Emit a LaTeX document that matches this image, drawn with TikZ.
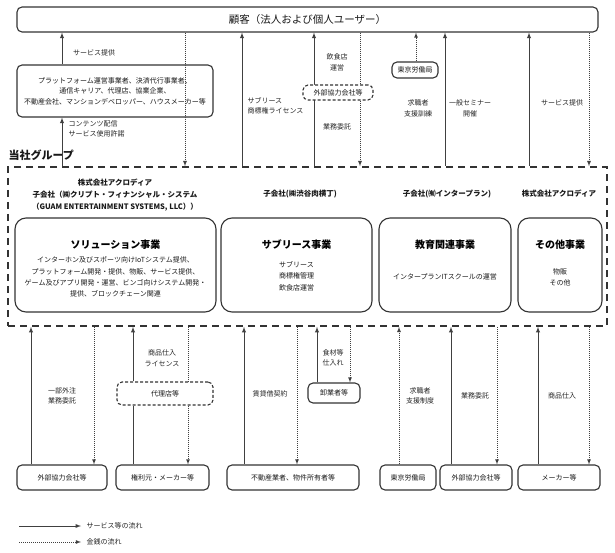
\documentclass[tikz,border=0pt]{standalone}
\usepackage{fontspec}
\setmainfont{Noto Sans CJK JP}
\usetikzlibrary{positioning}

\begin{document}
\begin{tikzpicture}[x=1pt,y=-1pt]
\tikzstyle{box}=[rectangle, rounded corners=5pt, draw=black!80, line width=1.1pt, fill=white, inner sep=0pt, align=center, font=\fontsize{7}{10.5}\selectfont, text=black!90]
\tikzstyle{biz}=[rectangle, rounded corners=11pt, draw=black!80, line width=1.1pt, minimum height=94pt]
\tikzstyle{head}=[font=\fontsize{7.5}{12}\selectfont\bfseries, align=center, text=black!90]
\tikzstyle{title}=[font=\fontsize{10}{12}\selectfont\bfseries, text=black]
\tikzstyle{desc}=[font=\fontsize{7}{11.3}\selectfont, align=center, text=black!90]
\tikzstyle{lbl}=[font=\fontsize{7}{10.5}\selectfont, align=center, text=black!85]
\tikzstyle{serv}=[-latex, line width=0.9pt, draw=black!75]
\tikzstyle{money}=[-latex, line width=0.8pt, draw=black!75, dash pattern=on 1pt off 1pt]

\useasboundingbox (0,0) rectangle (615,553);

% customers and the boxes above the group
\node[box, minimum width=581pt, minimum height=25pt, font=\fontsize{10.5}{12}\selectfont] at (307.5,19.5) (cust) {顧客（法人および個人ユーザー）};
\node[box, minimum width=196pt, minimum height=52pt] at (115,91) (plat) {プラットフォーム運営事業者、決済代行事業者、\\通信キャリア、代理店、協業企業、\\不動産会社、マンションデベロッパー、ハウスメーカー等};
\node[box, minimum width=46pt, minimum height=16pt] at (415,70) (rodo1) {東京労働局};

% group
\node[rectangle, draw=black!80, line width=1.6pt, dash pattern=on 7pt off 5pt, minimum width=599pt, minimum height=159pt] at (307.5,246.5) (group) {};
\node[anchor=west, font=\fontsize{11}{13}\selectfont\bfseries, text=black!90] at (5,155) (grp) {当社グループ};

\node[head] at (115,195) (solH) {株式会社アクロディア\\子会社（㈱クリプト・フィナンシャル・システム\\（GUAM ENTERTAINMENT SYSTEMS, LLC））};
\node[head] at (300,194) (subH) {子会社(㈱渋谷肉横丁)};
\node[head] at (447,194) (eduH) {子会社(㈲インタープラン)};
\node[head] at (559,194) (othH) {株式会社アクロディア};

\node[biz, minimum width=201pt] at (115.5,265) (sol) {};
\node[biz, minimum width=151pt] at (296.5,265) (sub) {};
\node[biz, minimum width=132pt] at (445,265) (edu) {};
\node[biz, minimum width=84pt] at (560,265) (oth) {};
\node[title] at (115.5,245) (solT) {ソリューション事業};
\node[title] at (296.5,245) (subT) {サブリース事業};
\node[title] at (445,245) (eduT) {教育関連事業};
\node[title] at (560,245) (othT) {その他事業};
\node[desc] at (115.5,277) (solD) {インターホン及びスポーツ向けIoTシステム提供、\\プラットフォーム開発・提供、物販、サービス提供、\\ゲーム及びアプリ開発・運営、ビンゴ向けシステム開発・\\提供、ブロックチェーン関連};
\node[desc] at (296.5,276) (subD) {サブリース\\商標権管理\\飲食店運営};
\node[desc] at (445,277) (eduD) {インタープランITスクールの運営};
\node[desc] at (560,277) (othD) {物販\\その他};

% boxes below the group
\node[box, minimum width=52pt, minimum height=20pt] at (334,393) (orosi) {卸業者等};
\node[box, dash pattern=on 3pt off 2pt, minimum width=96pt, minimum height=23pt] at (165,393.5) (dairi) {代理店等};
\node[box, minimum width=90pt, minimum height=25pt] at (62,477.5) (gaibu2) {外部協力会社等};
\node[box, minimum width=93pt, minimum height=25pt] at (162.5,477.5) (kenri) {権利元・メーカー等};
\node[box, minimum width=132pt, minimum height=25pt] at (293,477.5) (fudo) {不動産業者、物件所有者等};
\node[box, minimum width=56pt, minimum height=25pt] at (408,477.5) (rodo2) {東京労働局};
\node[box, minimum width=72pt, minimum height=25pt] at (476,477.5) (gaibu3) {外部協力会社等};
\node[box, minimum width=82pt, minimum height=25pt] at (559,477.5) (maker) {メーカー等};

% columns of the flows
\coordinate (t1) at (62,0);  \coordinate (t2) at (185,0); \coordinate (t3) at (242,0);
\coordinate (t4) at (314,0); \coordinate (t5) at (360,0); \coordinate (t6) at (416,0);
\coordinate (t7) at (445,0); \coordinate (t8) at (529,0); \coordinate (t9) at (589,0);
\coordinate (b1) at (31,0);  \coordinate (b2) at (94,0);  \coordinate (b3) at (133,0);
\coordinate (b4) at (188,0); \coordinate (b5) at (244,0); \coordinate (b6) at (297,0);
\coordinate (b7) at (317,0); \coordinate (b8) at (350,0); \coordinate (b9) at (399,0);
\coordinate (b10) at (451,0); \coordinate (b11) at (497,0); \coordinate (b12) at (538,0);
\coordinate (b13) at (589,0);

% upper flows
\path (plat.north -| t1) edge [serv] (cust.south -| t1);
\path (group.north -| t1) edge [serv] (plat.south -| t1);
\path (cust.south -| t2) edge [money] (group.north -| t2);
\path (group.north -| t3) edge [serv] (cust.south -| t3);
\path (group.north -| t4) edge [serv] (cust.south -| t4);
\path (cust.south -| t5) edge [money] (group.north -| t5);
\path (rodo1.north -| t6) edge [money] (cust.south -| t6);
\path (group.north -| t7) edge [serv] (cust.south -| t7);
\path (group.north -| t8) edge [serv] (cust.south -| t8);
\path (cust.south -| t9) edge [money] (group.north -| t9);
\node[box, dash pattern=on 3pt off 2pt, minimum width=70pt, minimum height=15pt] at (338,92.5) (gaibu1) {外部協力会社等};

% lower flows
\path (gaibu2.north -| b1) edge [serv] (group.south -| b1);
\path (group.south -| b2) edge [money] (gaibu2.north -| b2);
\path (kenri.north -| b3) edge [serv, -] (dairi.south -| b3);
\path (dairi.north -| b3) edge [serv] (group.south -| b3);
\path (group.south -| b4) edge [money, -] (dairi.north -| b4);
\path (dairi.south -| b4) edge [money] (kenri.north -| b4);
\path (fudo.north -| b5) edge [serv] (group.south -| b5);
\path (group.south -| b6) edge [money] (fudo.north -| b6);
\path (orosi.north -| b7) edge [serv] (group.south -| b7);
\path (group.south -| b8) edge [money] (orosi.north -| b8);
\path (rodo2.north -| b9) edge [money] (group.south -| b9);
\path (gaibu3.north -| b10) edge [serv] (group.south -| b10);
\path (group.south -| b11) edge [money] (gaibu3.north -| b11);
\path (maker.north -| b12) edge [serv] (group.south -| b12);
\path (group.south -| b13) edge [money] (maker.north -| b13);

% labels
\node[lbl] at (94,53) (l1) {サービス提供};
\node[lbl, align=left, anchor=west] at (65,129) (l2) {コンテンツ配信\\サービス使用許諾};
\node[lbl, align=left, anchor=west] at (244,106) (l3) {サブリース\\商標権ライセンス};
\node[lbl] at (337,62.5) (l4) {飲食店\\運営};
\node[lbl] at (337,127) (l5) {業務委託};
\node[lbl] at (418,108.5) (l6) {求職者\\支援訓練};
\node[lbl] at (470,108.5) (l7) {一般セミナー\\開催};
\node[lbl] at (562,103) (l8) {サービス提供};
\node[lbl] at (62,396) (l9) {一部外注\\業務委託};
\node[lbl] at (162,358) (l10) {商品仕入\\ライセンス};
\node[lbl] at (270,394) (l11) {賃貸借契約};
\node[lbl] at (333,358) (l12) {食材等\\仕入れ};
\node[lbl] at (420,396) (l13) {求職者\\支援制度};
\node[lbl] at (475,396) (l14) {業務委託};
\node[lbl] at (562,396) (l15) {商品仕入};

% legend
\coordinate (lg1) at (19,526); \coordinate (lg2) at (81,526);
\coordinate (lg3) at (19,542); \coordinate (lg4) at (81,542);
\path (lg1) edge [serv] (lg2);
\path (lg3) edge [money] (lg4);
\node[lbl, right=2pt of lg2] (lgS) {サービス等の流れ};
\node[lbl, right=2pt of lg4] (lgM) {金銭の流れ};
\end{tikzpicture}
\end{document}
